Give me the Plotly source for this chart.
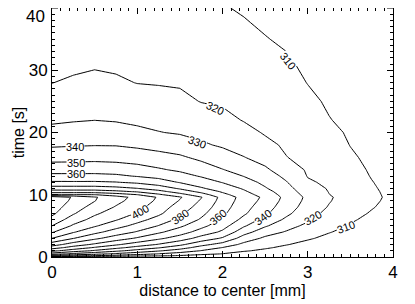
import numpy as np
import plotly.graph_objects as go

# radius grid [mm]
r_mm = [0, 0.25, 0.5, 0.75, 1.0, 1.25, 1.5, 1.75, 2.0, 2.25, 2.5, 2.75, 3.0, 3.25, 3.5, 3.75, 4.0]
# time grid [s]
t_s = [0, 0.2, 0.5, 1, 1.5, 2, 3, 4, 5, 6, 7, 8, 9, 9.6,
       10, 10.5, 11, 12, 13, 14, 16, 18, 20, 22, 25, 28, 31, 35, 40]

# temperature [K], one list per radius (values along t_s)
temp_r000 = [300, 325, 345, 362.5, 374.4, 384.5, 400, 410.9, 420, 426.7, 432, 434.5, 436.5, 437,
             410, 395, 385, 371.25, 362.5, 356.1, 346.25, 338.6, 332.9, 328.55, 324.2, 319.9, 318.2, 315.9, 313]
temp_r025 = [300, 322, 337.7, 355, 366, 375, 390.3, 400.8, 408.5, 415, 421, 425, 428, 429,
             410.3, 395, 385, 371.25, 362.5, 356.1, 346.5, 339.2, 334, 329.3, 325.1, 321, 318.5, 316.2, 313.5]
temp_r050 = [300, 319.5, 332.9, 348.6, 359, 368.2, 382.2, 392.7, 401.1, 406.7, 411.7, 416.1, 420.3, 421,
             410.3, 395, 385, 371.25, 362.5, 356.2, 346.9, 339.6, 334.7, 329.9, 325.8, 321.8, 319.2, 317.1, 314]
temp_r075 = [300, 316.3, 328.3, 342.2, 352.7, 361.4, 375, 385.5, 393.8, 400.8, 405, 409.2, 412.5, 414,
             405.7, 392.5, 383.3, 370.4, 361.7, 355.6, 346.4, 339.5, 334.1, 329.3, 325.3, 321.2, 318.6, 316.2, 313.5]
temp_r100 = [300, 313.5, 324, 336.5, 346.4, 355, 368.75, 379, 386.9, 393.5, 399.4, 403, 406, 407,
             400.3, 389.1, 380.4, 368.2, 359.4, 353.9, 345.2, 338.2, 332.1, 328.2, 324.1, 319.8, 318.25, 315.9, 313]
temp_r125 = [300, 311.4, 319.6, 331, 340.8, 349.2, 362, 371.7, 379.6, 386.25, 392, 395, 398, 399,
             391.8, 383.3, 375.7, 364.5, 357.1, 351.2, 343.3, 336.6, 330.3, 327.4, 323.2, 319.45, 317.4, 314.7, 312.5]
temp_r150 = [300, 309.1, 315.8, 325.5, 334.2, 342.1, 355.3, 364.6, 371.8, 377.6, 382.1, 385.7, 389.3, 391,
             383.7, 375.7, 369, 359.4, 353.5, 348.5, 341.5, 334.4, 329.2, 326.3, 322.1, 319.1, 317.3, 315, 312]
temp_r175 = [300, 306.3, 312.5, 319.6, 326, 332.9, 346.25, 355.8, 362.9, 368.8, 372.5, 375.8, 378.8, 380.5,
             374.5, 367.5, 361.25, 354.7, 349.2, 345.2, 337.7, 331.3, 327.6, 324.5, 319.7, 318.3, 316.6, 314.3, 311.5]
temp_r200 = [300, 304, 309.7, 315, 319.7, 326.25, 338.75, 348.2, 353.8, 358.6, 362, 364.3, 366.2, 367,
             363, 358.75, 355.6, 349.6, 345.2, 340.4, 334.2, 328.8, 325.5, 322.2, 319, 317.2, 315.4, 313.2, 310.5]
temp_r225 = [300, 302.4, 305.9, 311, 314.2, 317.4, 325.5, 333.8, 341.2, 347.1, 351.5, 353.5, 355.2, 356,
             354, 351.5, 349, 344.3, 339.7, 336.5, 330.3, 326.2, 322.5, 319.6, 317.8, 316.1, 314.4, 312, 309.2]
temp_r250 = [300, 301.6, 304, 308, 311.2, 313.5, 318.1, 324.3, 331.1, 336.7, 341.8, 344.5, 347, 348,
             346, 343.5, 341, 337.6, 334.5, 331.5, 326.6, 322, 319.3, 318.1, 316.3, 314.5, 312.7, 310.3, 308]
temp_r275 = [300, 301, 302.6, 305.3, 307.9, 310.4, 314.8, 319.1, 323.6, 328.2, 332, 334.5, 336.3, 337,
             335.9, 334.6, 333.2, 330.5, 327.9, 325.3, 320.2, 318.8, 317.6, 316.4, 314.6, 312.8, 311, 309, 307]
temp_r300 = [300, 300.7, 301.9, 303.7, 305.6, 307.4, 311, 314.3, 317.7, 321.5, 324, 326, 327.4, 328,
             326.9, 325.4, 324, 321.1, 319.6, 318.9, 317.6, 316.3, 315, 313.6, 311.7, 309.8, 308.6, 307, 305.5]
temp_r325 = [300, 300.5, 301.3, 302.6, 303.9, 305.3, 307.9, 310.4, 312.7, 314.9, 317.1, 319.3, 320.6, 321,
             320.2, 319.7, 319.3, 318.5, 317.6, 316.8, 315.2, 313.6, 312, 310.3, 309, 308, 307, 306, 304.5]
temp_r350 = [300, 300.4, 300.9, 301.9, 302.8, 303.8, 305.7, 307.5, 309.4, 311, 312.6, 314, 315.4, 316,
             315.7, 315.3, 314.9, 314.2, 313.4, 312.6, 311.1, 309.8, 309, 308.2, 307.2, 306.4, 305.6, 304.8, 303.8]
temp_r375 = [300, 300.3, 300.7, 301.4, 302, 302.7, 304, 305.4, 306.7, 308, 309.3, 310.5, 311.5, 312,
             311.7, 311.4, 311, 310.3, 309.6, 309.1, 308.2, 307.5, 306.8, 306.2, 305.4, 304.8, 304.2, 303.5, 302.8]
temp_r400 = [300, 300.2, 300.5, 301, 301.5, 302, 303, 304, 305, 306, 306.8, 307.4, 307.8, 308,
             307.9, 307.7, 307.5, 307.1, 306.8, 306.5, 305.9, 305.4, 305, 304.6, 304, 303.5, 303, 302.5, 302]

temp_by_radius = [temp_r000, temp_r025, temp_r050, temp_r075, temp_r100, temp_r125, temp_r150,
                  temp_r175, temp_r200, temp_r225, temp_r250, temp_r275, temp_r300, temp_r325,
                  temp_r350, temp_r375, temp_r400]

# contour levels [K]
level_start, level_end, level_step = 310, 430, 10

# contour labels
label_text = ["310", "320", "330", "340", "350", "360",
              "400", "380", "360", "340", "320", "310"]
label_pos = [(2.77, 31.5), (1.91, 23.9), (1.70, 18.4), (0.27, 17.7), (0.28, 15.1), (0.28, 13.3),
             (1.03, 7.25), (1.50, 6.45), (1.95, 6.4), (2.48, 6.4), (3.06, 6.2), (3.45, 4.75)]
label_angle = [52, 25, 20, 0, 0, 0, -30, -35, -40, -38, -30, -20]

# axis ticks
x_ticks = [0, 1, 2, 3, 4]
y_ticks = [0, 10, 20, 30]
y_top_tick = 40

z = np.array(temp_by_radius).T.tolist()

FONT = "Liberation Sans, Arial, Helvetica, sans-serif"

fig = go.Figure(go.Contour(
    x=r_mm, y=t_s, z=z,
    contours=dict(start=level_start, end=level_end, size=level_step,
                  coloring="lines", showlabels=False),
    colorscale=[[0, "black"], [1, "black"]],
    line=dict(width=1, smoothing=0),
    showscale=False, hoverinfo="skip",
))

for txt, (xr, yt), ang in zip(label_text, label_pos, label_angle):
    fig.add_annotation(x=xr, y=yt, text=txt, showarrow=False, textangle=ang,
                       font=dict(family=FONT, size=11, color="black"),
                       bgcolor="white", borderpad=0)

# top y tick label, kept inside the figure like the original (below the tick)
fig.add_annotation(xref="paper", x=0, y=y_top_tick, yref="y", text=str(y_top_tick),
                   showarrow=False, xanchor="right", yanchor="top", xshift=-5, yshift=3,
                   font=dict(family=FONT, size=17, color="black"))

axis_common = dict(showline=True, linecolor="black", linewidth=1, mirror="ticks",
                   ticks="inside", ticklen=6, tickwidth=1, tickcolor="black",
                   showgrid=False, zeroline=False, automargin=False,
                   tickfont=dict(family=FONT, size=17, color="black"))

fig.update_xaxes(range=[0, 4], tickmode="array", tickvals=x_ticks, ticktext=[str(v) for v in x_ticks],
                 minor=dict(ticks="inside", ticklen=3, dtick=0.1, tickcolor="black", showgrid=False),
                 title=dict(text="distance to center [mm]", font=dict(family=FONT, size=16, color="black"),
                            standoff=2),
                 **axis_common)
fig.update_yaxes(range=[0, 40], tickmode="array", tickvals=y_ticks, ticktext=[str(v) for v in y_ticks],
                 minor=dict(ticks="inside", ticklen=3, dtick=1, tickcolor="black", showgrid=False),
                 title=dict(text="time [s]", font=dict(family=FONT, size=16, color="black"),
                            standoff=0),
                 **axis_common)
# major tick at the top of the y axis (its label is the annotation above)
fig.add_shape(type="line", xref="paper", yref="y", x0=0, x1=6 / 341, y0=40, y1=40,
              line=dict(color="black", width=1))
fig.add_shape(type="line", xref="paper", yref="y", x0=1 - 6 / 341, x1=1, y0=40, y1=40,
              line=dict(color="black", width=1))

# the page body adds an 8 px offset, so the figure is 8 px smaller and margins shifted
fig.update_layout(template="none", width=407, height=296, margin=dict(l=44, r=22, t=0, b=47),
                  paper_bgcolor="white", plot_bgcolor="white", showlegend=False)

fig.write_html("out.html")
